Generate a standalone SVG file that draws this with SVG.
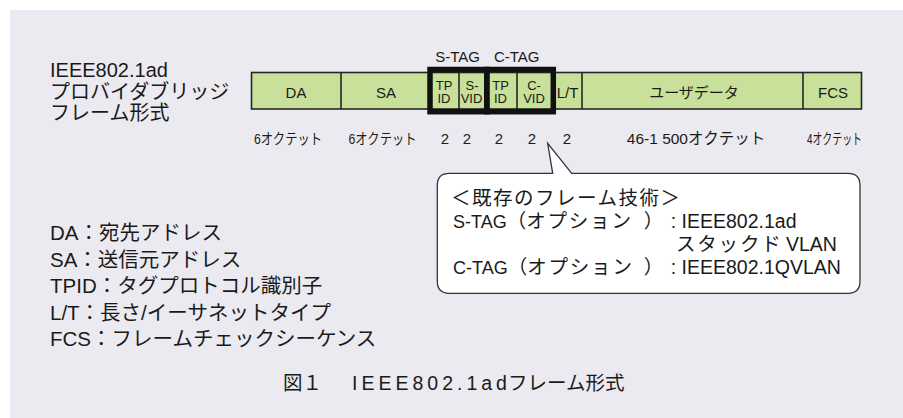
<svg xmlns="http://www.w3.org/2000/svg" width="903" height="418" viewBox="0 0 903 418">
<style>
text{font-family:"Liberation Sans","Noto Sans CJK JP",sans-serif;fill:#1a1a1a}
.cell{fill:#c8e09a;stroke:#262626;stroke-width:1.6}
.div{stroke:#262626;stroke-width:1.6}
.tag{fill:none;stroke:#111;stroke-width:5.5}
.lbl{font-size:15px;text-anchor:middle}
.sm{font-size:13px;text-anchor:middle}
.oct{font-size:15px;text-anchor:middle}
.t20{font-size:20px}
.leg{font-size:20.5px}
.co{font-size:19.5px}
.lat{font-size:18px}
.sp{letter-spacing:1.8px}
</style>
<rect x="10" y="10" width="893" height="408" fill="#ebeaf0"/>

<g id="title">
<text class="t20" x="50" y="77">IEEE802.1ad</text>
<text class="t20" x="50" y="98.5">プロバイダブリッジ</text>
<text class="t20" x="50" y="120">フレーム形式</text>
</g>

<g id="frame">
<rect class="cell" x="251.5" y="72.5" width="610" height="36.5"/>
<line class="div" x1="341" y1="72.5" x2="341" y2="109"/>
<line class="div" x1="459" y1="72.5" x2="459" y2="109"/>
<line class="div" x1="517" y1="72.5" x2="517" y2="109"/>
<line class="div" x1="582" y1="72.5" x2="582" y2="109"/>
<line class="div" x1="803" y1="72.5" x2="803" y2="109"/>
</g>

<g id="da"><text class="lbl" x="296" y="98">DA</text></g>
<g id="sa"><text class="lbl" x="386" y="98">SA</text></g>
<g id="s-tag">
<rect class="tag" x="430" y="69.5" width="56.8" height="42.2"/>
<text class="lbl" x="457.5" y="62">S-TAG</text>
<text class="sm" x="444" y="89.5">TP</text><text class="sm" x="444" y="103">ID</text>
<text class="sm" x="472" y="89.5">S-</text><text class="sm" x="471.5" y="103">VID</text>
</g>
<g id="c-tag">
<rect class="tag" x="486.8" y="69.5" width="66.5" height="42.2"/>
<text class="lbl" x="516.7" y="62">C-TAG</text>
<text class="sm" x="500.5" y="89.5">TP</text><text class="sm" x="500.5" y="103">ID</text>
<text class="sm" x="534" y="89.5">C-</text><text class="sm" x="534" y="103">VID</text>
</g>
<g id="lt"><text class="lbl" x="567.5" y="98">L/T</text></g>
<g id="data"><text class="lbl" x="694" y="98">ユーザデータ</text></g>
<g id="fcs"><text class="lbl" x="833" y="98">FCS</text></g>

<g id="octets">
<text class="oct" x="288" y="143.5" textLength="68" lengthAdjust="spacingAndGlyphs">6オクテット</text>
<text class="oct" x="382.5" y="143.5" textLength="68" lengthAdjust="spacingAndGlyphs">6オクテット</text>
<text class="oct" x="445" y="143.5">2</text>
<text class="oct" x="467" y="143.5">2</text>
<text class="oct" x="499" y="143.5">2</text>
<text class="oct" x="532" y="143.5">2</text>
<text class="oct" x="567" y="143.5">2</text>
<text class="oct" x="696" y="143.5" style="font-size:15.5px">46-1 500オクテット</text>
<text class="oct" x="834.5" y="143.5" textLength="55" lengthAdjust="spacingAndGlyphs">4オクテット</text>
</g>

<g id="callout">
<path d="M449.3 173.3 H552.7 L547.7 143.3 L571.7 173.3 H848 Q860 173.3 860 185.3 V281.3 Q860 293.3 848 293.3 H449.3 Q437.3 293.3 437.3 281.3 V185.3 Q437.3 173.3 449.3 173.3 Z" fill="#fff" stroke="#333" stroke-width="1.3"/>
<text class="co" x="451" y="205" letter-spacing="1.5">＜既存のフレーム技術＞</text>
<text class="co" x="453" y="228"><tspan class="lat">S-TAG</tspan>（<tspan class="sp">オプション</tspan><tspan dx="11">）</tspan><tspan dx="7.5">: IEEE802.1ad</tspan></text>
<text class="co" x="676" y="251"><tspan class="sp">スタックド</tspan><tspan dx="3.5">VLAN</tspan></text>
<text class="co" x="453" y="274"><tspan class="lat">C-TAG</tspan>（<tspan class="sp">オプション</tspan><tspan dx="10">）</tspan><tspan dx="7.5">: IEEE802.1QVLAN</tspan></text>
</g>

<g id="legend">
<text class="leg" x="50" y="240">DA：宛先アドレス</text>
<text class="leg" x="50" y="266.5">SA：送信元アドレス</text>
<text class="leg" x="50" y="293">TPID：タグプロトコル識別子</text>
<text class="leg" x="50" y="319.5">L/T：長さ/イーサネットタイプ</text>
<text class="leg" x="50" y="346">FCS：フレームチェックシーケンス</text>
</g>

<g id="caption">
<text style="font-size:19.5px" x="283" y="390">図１　<tspan x="352" letter-spacing="4">IEEE802.1ad</tspan><tspan x="508">フレーム形式</tspan></text>
</g>
</svg>
